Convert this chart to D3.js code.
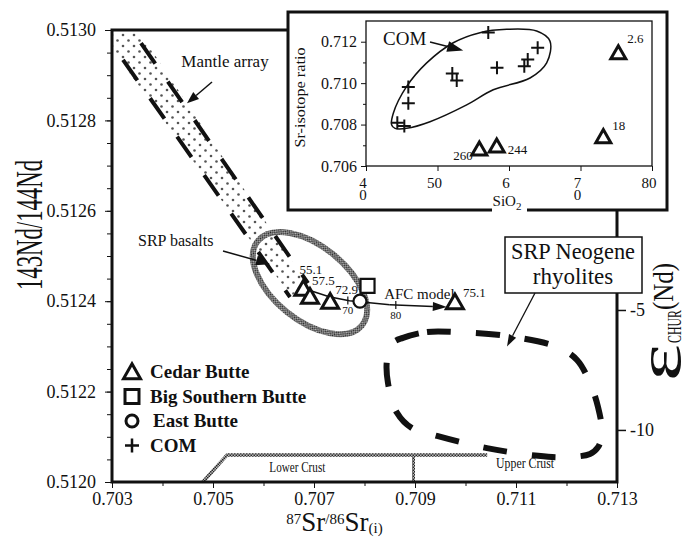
<!DOCTYPE html>
<html>
<head>
<meta charset="utf-8">
<script src="https://cdn.jsdelivr.net/npm/d3@7/dist/d3.min.js"></script>
<style>
body { margin: 0; background: #fff; }
</style>
</head>
<body>
<div id="chart"></div>
<script>
const WIDTH = 698, HEIGHT = 537;
const FONT = 'Liberation Serif';

// ---- main plot: 87Sr/86Sr vs 143Nd/144Nd ----
const xTicks = [0.703, 0.705, 0.707, 0.709, 0.711, 0.713];
const xMinorTicks = [0.704, 0.706, 0.708, 0.710, 0.712];
const yTicks = [0.5120, 0.5122, 0.5124, 0.5126, 0.5128, 0.5130];
const epsDomain = [-12.17, 6.67];   // eps(Nd) at bottom / top of the frame
const epsTicks = [-5, -10];

const cedarButte = [
  {sr: 0.70679, nd: 0.512428, label: '55.1'},
  {sr: 0.70692, nd: 0.512410, label: '57.5'},
  {sr: 0.70732, nd: 0.512399, label: '72.9'},
  {sr: 0.70979, nd: 0.512398, label: '75.1'}
];
const cedarLabelOffsets = [[-4, -15], [2, -12], [5, -8], [8, -5]];
const bigSouthernButte = [{sr: 0.70806, nd: 0.512434}];
const eastButte = [{sr: 0.70791, nd: 0.512400}];

const afcModel = [[0.70680, 0.512428], [0.70730, 0.512410], [0.70770, 0.512401],
                  [0.70850, 0.512392], [0.70963, 0.512387]];
const afcTicks = [{sr: 0.70767, label: '70'}, {sr: 0.70862, label: '80'}];

const mantleLeft = [[0.703218, 0.512934], [0.706525, 0.512409]];
const mantleRight = [[0.703574, 0.512971], [0.706881, 0.512440]];
const mantleBand = [[0.70302, 0.51300], [0.70352, 0.51300], [0.70682, 0.512445],
                    [0.70655, 0.512410], [0.70302, 0.512955]];

const srpBasalts = {sr: 0.70692, nd: 0.51244};

const rhyolites = [
  [0.708762, 0.512319], [0.709238, 0.512332], [0.709792, 0.512332], [0.710822, 0.512323],
  [0.711812, 0.512299], [0.712208, 0.512270], [0.712465, 0.512219], [0.712624, 0.512166],
  [0.712703, 0.512108], [0.712624, 0.512077], [0.712465, 0.512062], [0.711931, 0.512055],
  [0.711436, 0.512058], [0.710426, 0.512075], [0.709436, 0.512102], [0.708941, 0.512119],
  [0.708644, 0.512153], [0.708465, 0.512219], [0.708446, 0.512270], [0.708564, 0.512308]
];

const crustTop = [[0.70480, 0.51200], [0.70528, 0.51206], [0.71043, 0.51206]];
const crustDivider = [[0.70897, 0.51206], [0.70897, 0.51200]];

const legendItems = [
  {name: 'Cedar Butte', symbol: 'triangle'},
  {name: 'Big Southern Butte', symbol: 'square'},
  {name: 'East Butte', symbol: 'circle'},
  {name: 'COM', symbol: 'plus'}
];

// ---- inset: SiO2 vs Sr-isotope ratio ----
const insetXTicks = [40, 50, 60, 70, 80];
const insetXTickLabels = [['4', '0'], ['50'], ['6'], ['7', '0'], ['80']];
const insetYTicks = [0.706, 0.708, 0.710, 0.712];
const insetYMinor = [0.707, 0.709, 0.711];

const comSiO2 = [44.38, 45.36, 45.92, 45.92, 52.07, 52.69, 57.10, 58.32, 62.14, 62.62, 64.01];
const comSr = [0.70809, 0.70793, 0.70981, 0.70903, 0.71046, 0.71013, 0.71244, 0.71074, 0.71081, 0.71114, 0.71171];

const cedarInset = [
  {sio2: 55.85, sr: 0.706812, label: '260'},
  {sio2: 58.28, sr: 0.706958, label: '244'},
  {sio2: 73.19, sr: 0.707410, label: '18'},
  {sio2: 75.29, sr: 0.711464, label: '2.6'}
];
const cedarInsetLabelOffsets = [[-26, 11], [11, 8], [9, -7], [9, -10]];

const comOutline = [
  [43.59, 0.707979], [43.82, 0.708547], [45.69, 0.709841], [48.49, 0.710978],
  [52.21, 0.711951], [55.94, 0.712437], [59.68, 0.712597], [63.87, 0.712514],
  [65.73, 0.712028], [65.27, 0.710978], [62.94, 0.710249], [57.80, 0.709680],
  [54.08, 0.708951], [48.95, 0.708139], [45.69, 0.707818], [44.06, 0.707818]
];

// ------------------------------------------------------------------
const M = {left: 112, right: 617, top: 30, bottom: 482};
const x = d3.scaleLinear().domain([0.703, 0.713]).range([M.left, M.right]);
const y = d3.scaleLinear().domain([0.5120, 0.5130]).range([M.bottom, M.top]);
const yEps = d3.scaleLinear().domain(epsDomain).range([M.bottom, M.top]);

const svg = d3.select('#chart').append('svg')
    .attr('width', WIDTH)
    .attr('height', HEIGHT)
    .attr('font-family', FONT)
    .attr('fill', '#111');

const defs = svg.append('defs');
let checker = defs.append('pattern')
    .attr('id', 'checker')
    .attr('patternUnits', 'userSpaceOnUse')
    .attr('width', 3).attr('height', 3);
checker.append('rect').attr('width', 3).attr('height', 3).attr('fill', '#bbb');
checker.append('rect').attr('width', 1.5).attr('height', 1.5).attr('fill', '#262626');
checker.append('rect').attr('x', 1.5).attr('y', 1.5).attr('width', 1.5).attr('height', 1.5).attr('fill', '#262626');

let dots = defs.append('pattern')
    .attr('id', 'dots')
    .attr('patternUnits', 'userSpaceOnUse')
    .attr('width', 11).attr('height', 11);
dots.append('circle').attr('cx', 2).attr('cy', 2).attr('r', 1.3).attr('fill', '#555');
dots.append('circle').attr('cx', 7.5).attr('cy', 7.5).attr('r', 1.3).attr('fill', '#555');

defs.append('clipPath').attr('id', 'plotClip')
    .append('rect')
    .attr('x', M.left).attr('y', M.top)
    .attr('width', M.right - M.left).attr('height', M.bottom - M.top);

// draw a line with a filled arrowhead at (x2, y2)
function arrow(g, x1, y1, x2, y2, len, w, sw) {
    let a = Math.atan2(y2 - y1, x2 - x1);
    let bx = x2 - len * Math.cos(a), by = y2 - len * Math.sin(a);
    g.append('line')
        .attr('x1', x1).attr('y1', y1).attr('x2', bx).attr('y2', by)
        .attr('stroke', '#111').attr('stroke-width', sw || 1.5);
    let px = -Math.sin(a) * w / 2, py = Math.cos(a) * w / 2;
    g.append('path')
        .attr('d', 'M' + x2 + ',' + y2 + 'L' + (bx + px) + ',' + (by + py) + 'L' + (bx - px) + ',' + (by - py) + 'Z')
        .attr('fill', '#111');
}

function symbolPath(type, s) {
    if (type === 'triangle') {
        let h = s * 0.87;
        return 'M0,' + (-h * 0.55) + 'L' + (s / 2) + ',' + (h * 0.45) + 'L' + (-s / 2) + ',' + (h * 0.45) + 'Z';
    }
    if (type === 'square') return 'M' + (-s / 2) + ',' + (-s / 2) + 'h' + s + 'v' + s + 'h' + (-s) + 'Z';
    if (type === 'plus') return 'M' + (-s / 2) + ',0H' + (s / 2) + 'M0,' + (-s / 2) + 'V' + (s / 2);
    return d3.arc()({innerRadius: 0, outerRadius: s / 2, startAngle: 0, endAngle: 2 * Math.PI});
}

// axis groups get the serif font instead of d3's default
function plainAxis(g, size) {
    g.attr('font-family', FONT).attr('font-size', null);
    g.select('.domain').remove();
    g.selectAll('line').attr('stroke', '#111');
    g.selectAll('text').attr('font-size', size).attr('fill', '#111');
}

const line = d3.line().x(d => x(d[0])).y(d => y(d[1]));
const plot = svg.append('g').attr('clip-path', 'url(#plotClip)');

// mantle array band
plot.append('path')
    .attr('d', line(mantleBand) + 'Z')
    .attr('fill', 'url(#dots)');
[mantleLeft, mantleRight].forEach(l => {
    plot.append('path')
        .attr('d', line(l))
        .attr('fill', 'none')
        .attr('stroke', '#111')
        .attr('stroke-width', 4)
        .attr('stroke-dasharray', '25,22');
});

// SRP basalts field
plot.append('ellipse')
    .attr('cx', 0).attr('cy', 0)
    .attr('rx', 67).attr('ry', 37)
    .attr('transform', 'translate(' + x(srpBasalts.sr) + ',' + y(srpBasalts.nd) + ') rotate(39)')
    .attr('fill', 'none')
    .attr('stroke', 'url(#checker)')
    .attr('stroke-width', 6);

// crust fields
plot.append('path')
    .attr('d', line(crustTop))
    .attr('fill', 'none').attr('stroke', 'url(#checker)').attr('stroke-width', 3.5);
plot.append('path')
    .attr('d', line(crustDivider))
    .attr('fill', 'none').attr('stroke', 'url(#checker)').attr('stroke-width', 3);
svg.append('text').attr('x', x(0.70667)).attr('y', y(0.512022))
    .attr('text-anchor', 'middle').attr('font-size', 15).attr('textLength', 56)
    .attr('lengthAdjust', 'spacingAndGlyphs')
    .text('Lower Crust');
svg.append('text').attr('x', x(0.71118)).attr('y', y(0.512031))
    .attr('text-anchor', 'middle').attr('font-size', 15).attr('textLength', 58)
    .attr('lengthAdjust', 'spacingAndGlyphs')
    .text('Upper Crust');

// SRP Neogene rhyolites field
plot.append('path')
    .attr('d', d3.line().x(d => x(d[0])).y(d => y(d[1])).curve(d3.curveCatmullRomClosed)(rhyolites))
    .attr('fill', 'none')
    .attr('stroke', '#111')
    .attr('stroke-width', 6)
    .attr('stroke-dasharray', '24,25');

// AFC model curve with ticks
const afc = svg.append('g');
let afcEnd = afcModel[afcModel.length - 1], afcPrev = afcModel[afcModel.length - 2];
afc.append('path')
    .attr('d', line(afcModel.slice(0, -1)))
    .attr('fill', 'none').attr('stroke', '#111').attr('stroke-width', 1.5);
arrow(afc, x(afcPrev[0]), y(afcPrev[1]), x(afcEnd[0]), y(afcEnd[1]), 14, 9);
let afcY = d3.scaleLinear().domain(afcModel.map(d => d[0])).range(afcModel.map(d => d[1]));
afcTicks.forEach(t => {
    let px = x(t.sr), py = y(afcY(t.sr));
    afc.append('line').attr('x1', px).attr('x2', px).attr('y1', py - 4).attr('y2', py + 4)
        .attr('stroke', '#111').attr('stroke-width', 1.2);
    afc.append('text').attr('x', px).attr('y', py + 14)
        .attr('text-anchor', 'middle').attr('font-size', 11).text(t.label);
});
svg.append('text').attr('x', x(0.708390)).attr('y', y(0.512405))
    .attr('font-size', 15).text('AFC model');

// data symbols
const marks = svg.append('g').attr('fill', '#fff').attr('stroke', '#111');
cedarButte.forEach((d, i) => {
    marks.append('path')
        .attr('d', symbolPath('triangle', 17))
        .attr('transform', 'translate(' + x(d.sr) + ',' + y(d.nd) + ')')
        .attr('stroke-width', 3);
    svg.append('text')
        .attr('x', x(d.sr) + cedarLabelOffsets[i][0])
        .attr('y', y(d.nd) + cedarLabelOffsets[i][1])
        .attr('font-size', 13).text(d.label);
});
bigSouthernButte.forEach(d => {
    marks.append('path')
        .attr('d', symbolPath('square', 14))
        .attr('transform', 'translate(' + x(d.sr) + ',' + y(d.nd) + ')')
        .attr('stroke-width', 2.2);
});
eastButte.forEach(d => {
    marks.append('path')
        .attr('d', symbolPath('circle', 13))
        .attr('transform', 'translate(' + x(d.sr) + ',' + y(d.nd) + ')')
        .attr('stroke-width', 2.2);
});

// annotations
svg.append('text').attr('x', x(0.705238)).attr('y', y(0.512919))
    .attr('text-anchor', 'middle').attr('font-size', 17).text('Mantle array');
arrow(svg, x(0.70498), y(0.512885), x(0.704485), y(0.512838), 12, 9);
svg.append('text').attr('x', x(0.703515)).attr('y', y(0.512522))
    .attr('font-size', 16).text('SRP basalts');
arrow(svg, x(0.705198), y(0.512511), x(0.706129), y(0.512482), 14, 10);

// main frame and axes
svg.append('path')
    .attr('d', 'M' + M.left + ',' + M.top + 'V' + M.bottom + 'H' + M.right + 'V' + M.top + 'Z')
    .attr('fill', 'none').attr('stroke', '#111').attr('stroke-width', 3);

svg.append('g')
    .attr('transform', 'translate(0,' + M.bottom + ')')
    .call(d3.axisBottom(x).tickValues(xMinorTicks).tickSize(4).tickFormat(''))
    .call(g => plainAxis(g, 18));
svg.append('g')
    .attr('transform', 'translate(0,' + M.bottom + ')')
    .call(d3.axisBottom(x).tickValues(xTicks).tickSize(6).tickPadding(4).tickFormat(d3.format('.3f')))
    .call(g => plainAxis(g, 18));

svg.append('g')
    .attr('transform', 'translate(' + M.left + ',0)')
    .call(d3.axisLeft(y).ticks(20).tickSize(5).tickFormat(''))
    .call(g => plainAxis(g, 18));
svg.append('g')
    .attr('transform', 'translate(' + M.left + ',0)')
    .call(d3.axisLeft(y).tickValues(yTicks).tickSize(7).tickPadding(9).tickFormat(d3.format('.4f')))
    .call(g => plainAxis(g, 18));

svg.append('g')
    .attr('transform', 'translate(' + M.right + ',0)')
    .call(d3.axisRight(yEps).tickValues(epsTicks).tickSize(9).tickPadding(4).tickFormat(d => d))
    .call(g => plainAxis(g, 18))
    .call(g => g.selectAll('line').attr('stroke-width', 1.5));

// axis titles
svg.append('text')
    .attr('transform', 'translate(42,225) rotate(-90)')
    .attr('text-anchor', 'middle').attr('font-size', 38)
    .attr('textLength', 130).attr('lengthAdjust', 'spacingAndGlyphs')
    .text('143Nd/144Nd');

let xt = svg.append('text')
    .attr('x', (M.left + M.right) / 2 - 30).attr('y', 531)
    .attr('text-anchor', 'middle');
xt.append('tspan').attr('font-size', 15).attr('dy', -7).text('87');
xt.append('tspan').attr('font-size', 27).attr('dy', 7).text('Sr');
xt.append('tspan').attr('font-size', 15).attr('dy', -7).text('/86');
xt.append('tspan').attr('font-size', 27).attr('dy', 7).text('Sr');
xt.append('tspan').attr('font-size', 15).attr('dy', 2).text('(i)');

svg.append('text')
    .attr('transform', 'translate(680,381) rotate(-90)')
    .attr('font-size', 62).attr('textLength', 37).attr('lengthAdjust', 'spacingAndGlyphs')
    .text('ε');
svg.append('text')
    .attr('transform', 'translate(681,343) rotate(-90)')
    .attr('font-size', 18).attr('textLength', 33).attr('lengthAdjust', 'spacingAndGlyphs')
    .text('CHUR');
svg.append('text')
    .attr('transform', 'translate(673,310) rotate(-90)')
    .attr('font-size', 30).attr('textLength', 47).attr('lengthAdjust', 'spacingAndGlyphs')
    .text('(Nd)');

// rhyolite label box
svg.append('rect')
    .attr('x', 505).attr('y', 237).attr('width', 137).attr('height', 56)
    .attr('fill', '#fff').attr('stroke', '#111').attr('stroke-width', 1.5);
svg.append('text').attr('x', 573).attr('y', 259)
    .attr('text-anchor', 'middle').attr('font-size', 23).attr('textLength', 124)
    .attr('lengthAdjust', 'spacingAndGlyphs').text('SRP Neogene');
svg.append('text').attr('x', 573).attr('y', 284)
    .attr('text-anchor', 'middle').attr('font-size', 23).text('rhyolites');
arrow(svg, 535, 293, x(0.710822), y(0.512300), 12, 8, 1.3);

// legend
const legend = svg.append('g');
legendItems.forEach((d, i) => {
    let cy = 372 + i * 24.5;
    legend.append('path')
        .attr('d', symbolPath(d.symbol, d.symbol === 'triangle' ? 17 : (d.symbol === 'circle' ? 12 : 14)))
        .attr('transform', 'translate(132,' + cy + ')')
        .attr('fill', '#fff').attr('stroke', '#111')
        .attr('stroke-width', d.symbol === 'plus' ? 2.5 : 3);
    legend.append('text')
        .attr('x', d.symbol === 'circle' ? 153 : 150).attr('y', cy + 6)
        .attr('font-size', 19).attr('font-weight', 'bold')
        .text(d.name);
});

// ---- inset ----
const IB = {left: 288, top: 12, right: 667, bottom: 210};
const IP = {left: 366, top: 21, right: 652, bottom: 166};
const ix = d3.scaleLinear().domain([40, 80]).range([IP.left, IP.right]);
const iy = d3.scaleLinear().domain([0.706, 0.713]).range([IP.bottom, IP.top]);

const inset = svg.append('g');
inset.append('rect')
    .attr('x', IB.left).attr('y', IB.top)
    .attr('width', IB.right - IB.left).attr('height', IB.bottom - IB.top)
    .attr('fill', '#fff').attr('stroke', '#111').attr('stroke-width', 3);
inset.append('rect')
    .attr('x', IP.left).attr('y', IP.top)
    .attr('width', IP.right - IP.left).attr('height', IP.bottom - IP.top)
    .attr('fill', 'none').attr('stroke', '#111').attr('stroke-width', 1.3);

inset.append('g')
    .attr('transform', 'translate(' + IP.left + ',0)')
    .call(d3.axisLeft(iy).tickValues(insetYMinor).tickSize(3).tickFormat(''))
    .call(g => plainAxis(g, 16));
inset.append('g')
    .attr('transform', 'translate(' + IP.left + ',0)')
    .call(d3.axisLeft(iy).tickValues(insetYTicks).tickSize(5).tickPadding(4).tickFormat(d3.format('.3f')))
    .call(g => plainAxis(g, 16));
inset.append('g')
    .attr('transform', 'translate(0,' + IP.bottom + ')')
    .call(d3.axisBottom(ix).tickValues(insetXTicks).tickSize(5).tickFormat(''))
    .call(g => plainAxis(g, 16));

// wrapped tick labels, one text per tick
insetXTicks.forEach((t, i) => {
    let lbl = inset.append('text')
        .attr('y', 188)
        .attr('text-anchor', 'middle').attr('font-size', 15);
    insetXTickLabels[i].forEach((s, j) => {
        lbl.append('tspan').attr('x', ix(t) - 3).attr('dy', j ? 12 : 0).text(s);
    });
});

inset.append('text')
    .attr('transform', 'translate(305,' + ((IP.top + IP.bottom) / 2 + 4) + ') rotate(-90)')
    .attr('text-anchor', 'middle').attr('font-size', 14).attr('textLength', 100)
    .attr('lengthAdjust', 'spacingAndGlyphs')
    .text('Sr-isotope ratio');

inset.append('rect')
    .attr('x', 492).attr('y', 191).attr('width', 35).attr('height', 24)
    .attr('fill', '#fff');
let sio2 = inset.append('text').attr('x', 507).attr('y', 206)
    .attr('text-anchor', 'middle').attr('font-size', 15);
sio2.append('tspan').text('SiO');
sio2.append('tspan').attr('font-size', 11).attr('dy', 4).text('2');

// COM field outline and points
inset.append('path')
    .attr('d', d3.line().x(d => ix(d[0])).y(d => iy(d[1])).curve(d3.curveCatmullRomClosed)(comOutline))
    .attr('fill', 'none').attr('stroke', '#111').attr('stroke-width', 1.5);
comSiO2.forEach((s, i) => {
    inset.append('path')
        .attr('d', symbolPath('plus', 13))
        .attr('transform', 'translate(' + ix(s) + ',' + iy(comSr[i]) + ')')
        .attr('stroke', '#111').attr('stroke-width', 2);
});
inset.append('text').attr('x', 383).attr('y', 45).attr('font-size', 19).text('COM');
arrow(inset, 430, 42, ix(53.6), iy(0.71158), 16, 11);

cedarInset.forEach((d, i) => {
    inset.append('path')
        .attr('d', symbolPath('triangle', 15))
        .attr('transform', 'translate(' + ix(d.sio2) + ',' + iy(d.sr) + ')')
        .attr('fill', '#fff').attr('stroke', '#111').attr('stroke-width', 3);
    inset.append('text')
        .attr('x', ix(d.sio2) + cedarInsetLabelOffsets[i][0])
        .attr('y', iy(d.sr) + cedarInsetLabelOffsets[i][1])
        .attr('font-size', 13).text(d.label);
});

svg.selectAll('text').attr('font-family', FONT);
</script>
</body>
</html>
